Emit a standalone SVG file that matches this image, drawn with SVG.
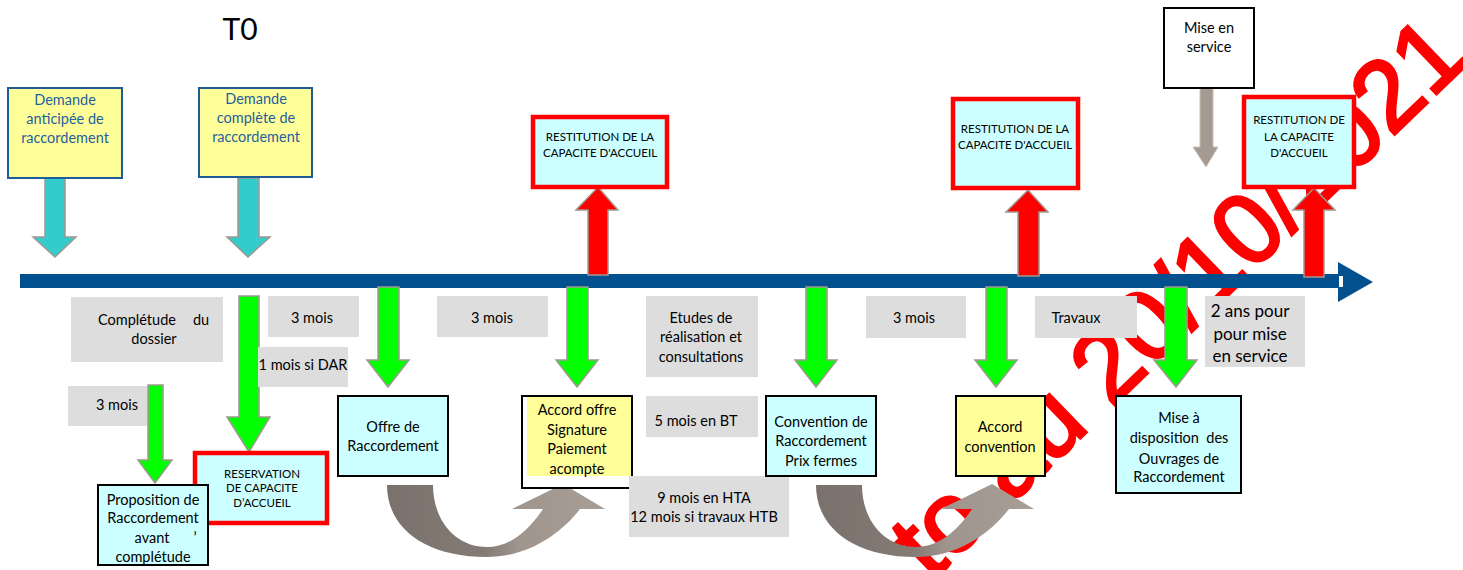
<svg xmlns="http://www.w3.org/2000/svg" width="1463" height="570" viewBox="0 0 1463 570">
<defs>
<style>
text{font-family:Lato,"Liberation Sans",sans-serif;font-size:14.5px;fill:#000;text-anchor:middle}
.blue{fill:#1F5F9F}
.caps{font-size:11.5px}
.lbl{fill:#DDDDDD}
.cyan{fill:#CCFFFF;stroke:#000;stroke-width:2}
.yel{fill:#FFFF99;stroke:#000;stroke-width:2}
.dem{fill:#FFFF99;stroke:#1F5C99;stroke-width:2}
.redbox{fill:#CCFFFF;stroke:#FF0000;stroke-width:4.5}
.garr{fill:#00FF00;stroke:#A09890;stroke-width:1.5}
.carr{fill:#33CCCC;stroke:#A09890;stroke-width:1.5}
.rarr{fill:#FF0000;stroke:#A09890;stroke-width:1.5}
.gray{fill:#A59A92;stroke:#C8C0BA;stroke-width:1}
.wm{font-family:"Liberation Sans",sans-serif;font-size:100px;fill:#FF0000;stroke:#FF0000;stroke-width:3;text-anchor:start}
</style>
<linearGradient id="cg" x1="0" y1="0" x2="1" y2="0">
<stop offset="0" stop-color="#7B716C"/>
<stop offset="0.45" stop-color="#857B75"/>
<stop offset="0.6" stop-color="#A0958D"/>
<stop offset="1" stop-color="#A89E96"/>
</linearGradient>
</defs>
<rect width="1463" height="570" fill="#fff"/>
<text class="wm" transform="translate(931,582) rotate(-44)">to au 20/10/2021</text>
<g id="timeline">
<rect x="20" y="274" width="1320" height="14" fill="#03508F"/>
<polygon points="1338,262 1373,282 1338,302" fill="#03508F"/>
<rect x="1339" y="276" width="4" height="11" fill="#fff"/>
</g>
<text x="240" y="40" style="font-size:30px">T0</text>
<g id="connectors">
<polygon class="carr" points="45,178 65,178 65,237 76,237 55,257 33,237 45,237"/>
<polygon class="carr" points="238,178 259,178 259,237 270,237 248,257 227,237 238,237"/>
<polygon class="rarr" points="588,275 608,275 608,210 618,210 598,187 576,210 588,210"/>
<polygon class="rarr" points="1018,276 1039,276 1039,212 1048,212 1028,190 1006,212 1018,212"/>
<polygon class="rarr" points="1304,277 1324,277 1324,210 1335,210 1314,188 1293,210 1304,210"/>
<polygon class="gray" points="1200,88 1213,88 1213,147 1218,147 1206,167 1193,147 1200,147"/>
<polygon class="garr" points="148,385 163,385 163,460 172,460 155,483 138,460 148,460"/>
<polygon class="garr" points="239,296 259,296 259,417 270,417 249,452 227,417 239,417"/>
<polygon class="garr" points="378,287 399,287 399,360 409,360 388,387 367,360 378,360"/>
<polygon class="garr" points="567,287 588,287 588,360 598,360 577,387 556,360 567,360"/>
<polygon class="garr" points="806,287 827,287 827,360 837,360 816,387 795,360 806,360"/>
<polygon class="garr" points="986,287 1007,287 1007,360 1017,360 996,387 975,360 986,360"/>
<polygon class="garr" points="1165,287 1187,287 1187,360 1197,360 1176,387 1154,360 1165,360"/>
<path fill="url(#cg)" d="M387,485 C387,528 425,557 487,557 C527,557 560,535 580,509 L605,509 L563,484 L512,509 L543,509 C527,533 508,547 487,547 C455,547 433,520 433,485 Z"/>
<path fill="url(#cg)" transform="translate(429,0)" d="M387,485 C387,528 425,557 487,557 C527,557 560,535 580,509 L605,509 L563,484 L512,509 L543,509 C527,533 508,547 487,547 C455,547 433,520 433,485 Z"/>
</g>
<g id="demande-anticipee">
<rect class="dem" x="8" y="88" width="114" height="90"/>
<text class="blue" x="65" y="105">Demande</text>
<text class="blue" x="65" y="124">anticipée de</text>
<text class="blue" x="65" y="143">raccordement</text>
</g>
<g id="demande-complete">
<rect class="dem" x="199" y="88" width="113" height="89"/>
<text class="blue" x="256" y="104">Demande</text>
<text class="blue" x="256" y="123">complète de</text>
<text class="blue" x="256" y="142">raccordement</text>
</g>
<g id="lbl-completude">
<rect class="lbl" x="71" y="297" width="152" height="65"/>
<text y="325"><tspan x="98" style="text-anchor:start">Complétude</tspan><tspan x="193" style="text-anchor:start">du</tspan></text>
<text x="154" y="344">dossier</text>
</g>
<g id="lbl-3mois-a">
<rect class="lbl" x="68" y="386" width="79" height="40"/>
<text x="117" y="410">3 mois</text>
</g>
<g id="lbl-3mois-b">
<rect class="lbl" x="268" y="296" width="91" height="41"/>
<text x="312" y="323">3 mois</text>
</g>
<g id="lbl-1mois">
<rect class="lbl" x="258" y="347" width="90" height="40"/>
<text x="303" y="370">1 mois si DAR</text>
</g>
<g id="lbl-3mois-c">
<rect class="lbl" x="437" y="296" width="111" height="41"/>
<text x="492" y="323">3 mois</text>
</g>
<g id="lbl-etudes">
<rect class="lbl" x="646" y="296" width="112" height="81"/>
<text x="701" y="323">Etudes de</text>
<text x="701" y="342">réalisation et</text>
<text x="701" y="362">consultations</text>
</g>
<g id="lbl-5mois">
<rect class="lbl" x="646" y="396" width="112" height="41"/>
<text x="696" y="426">5 mois en BT</text>
</g>
<g id="lbl-3mois-d">
<rect class="lbl" x="866" y="296" width="100" height="42"/>
<text x="914" y="323">3 mois</text>
</g>
<g id="lbl-travaux">
<rect class="lbl" x="1035" y="296" width="102" height="42"/>
<text x="1076" y="323">Travaux</text>
</g>
<g id="lbl-2ans">
<rect class="lbl" x="1205" y="296" width="100" height="71"/>
<text x="1250" y="317" style="font-size:17px">2 ans pour</text>
<text x="1250" y="340" style="font-size:17px">pour mise</text>
<text x="1250" y="362" style="font-size:17px">en service</text>
</g>
<g id="offre">
<rect class="cyan" x="338" y="396" width="110" height="80"/>
<text x="393" y="432">Offre de</text>
<text x="393" y="451">Raccordement</text>
</g>
<g id="accord-offre">
<rect x="522" y="396" width="110" height="92" fill="#fff" stroke="#000" stroke-width="2"/>
<rect x="527" y="397" width="104" height="79" fill="#FFFF99"/>
<text x="577" y="415">Accord offre</text>
<text x="577" y="435">Signature</text>
<text x="577" y="454">Paiement</text>
<text x="577" y="474">acompte</text>
</g>
<g id="lbl-9mois">
<rect class="lbl" x="629" y="476" width="160" height="61"/>
<text x="704" y="503">9 mois en HTA</text>
<text x="704" y="522">12 mois si travaux HTB</text>
</g>
<g id="convention">
<rect class="cyan" x="766" y="396" width="110" height="80"/>
<text x="821" y="427">Convention de</text>
<text x="821" y="446">Raccordement</text>
<text x="821" y="466">Prix fermes</text>
</g>
<g id="accord-convention">
<rect class="yel" x="956" y="396" width="89" height="80"/>
<text x="1000" y="432">Accord</text>
<text x="1000" y="452">convention</text>
</g>
<g id="mise-a-disposition">
<rect class="cyan" x="1116" y="396" width="125" height="97"/>
<text x="1179" y="423">Mise à</text>
<text x="1179" y="443" xml:space="preserve">disposition  des</text>
<text x="1179" y="464">Ouvrages de</text>
<text x="1179" y="482">Raccordement</text>
</g>
<g id="reservation">
<rect class="redbox" x="195" y="453" width="132" height="70"/>
<text class="caps" x="262" y="478">RESERVATION</text>
<text class="caps" x="262" y="492">DE CAPACITE</text>
<text class="caps" x="262" y="507">D’ACCUEIL</text>
</g>
<g id="proposition">
<rect class="cyan" x="98" y="485" width="110" height="80"/>
<text x="153" y="505">Proposition de</text>
<text x="153" y="523">Raccordement</text>
<text y="543"><tspan x="152">avant</tspan><tspan x="195">’</tspan></text>
<text x="153" y="562">complétude</text>
</g>
<g id="restitution-1">
<rect class="redbox" x="533" y="117" width="134" height="70"/>
<text class="caps" x="600" y="141">RESTITUTION DE LA</text>
<text class="caps" x="600" y="157">CAPACITE D'ACCUEIL</text>
</g>
<g id="restitution-2">
<rect class="redbox" x="953" y="99" width="125" height="89"/>
<text class="caps" x="1015" y="133">RESTITUTION DE LA</text>
<text class="caps" x="1015" y="149">CAPACITE D'ACCUEIL</text>
</g>
<g id="restitution-3">
<rect class="redbox" x="1244" y="97" width="110" height="90"/>
<text class="caps" x="1299" y="124">RESTITUTION DE</text>
<text class="caps" x="1299" y="141">LA CAPACITE</text>
<text class="caps" x="1299" y="157">D'ACCUEIL</text>
</g>
<g id="mise-en-service">
<rect x="1164" y="8" width="90" height="80" fill="#fff" stroke="#000" stroke-width="2"/>
<text x="1209" y="33">Mise en</text>
<text x="1209" y="52">service</text>
</g>
</svg>
